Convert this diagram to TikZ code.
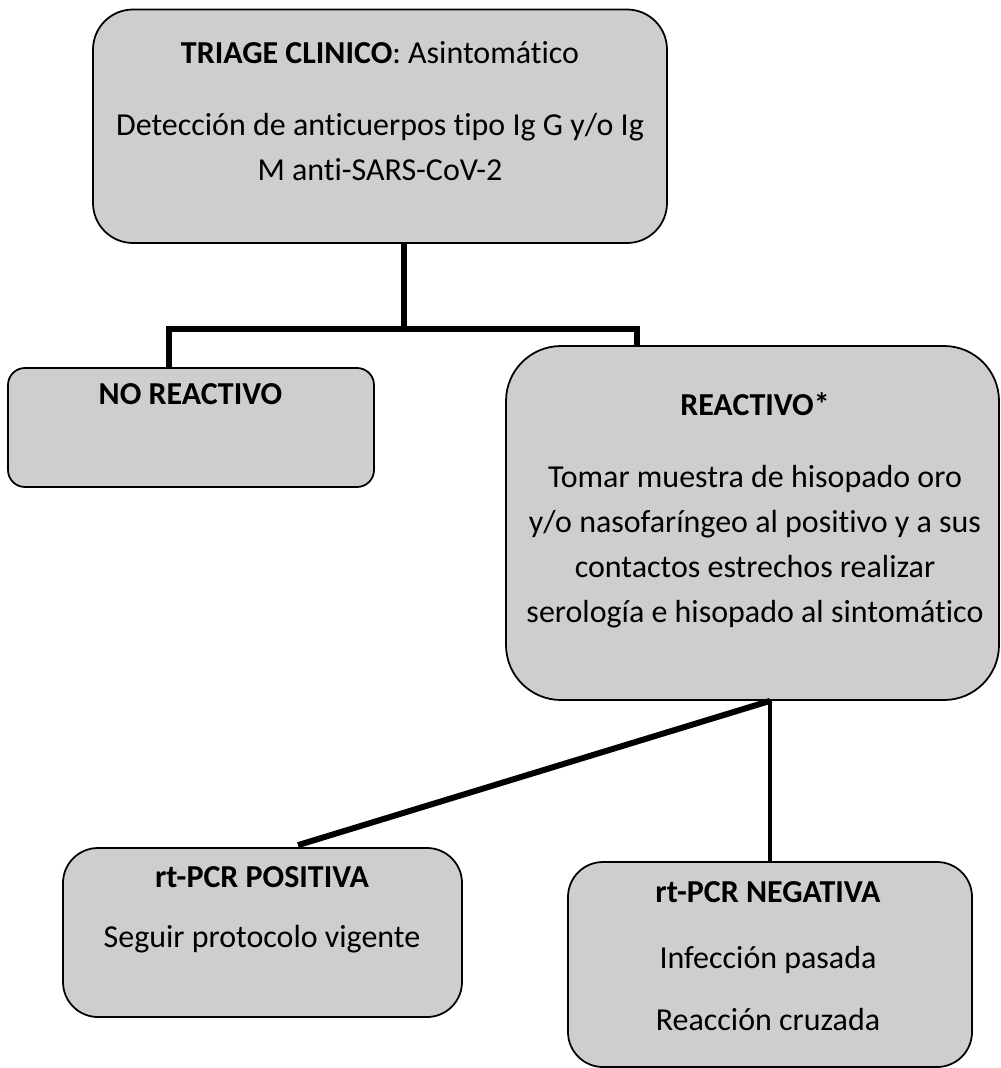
\documentclass[tikz,border=0pt]{standalone}
\usepackage{fontspec}
\setmainfont{Carlito}[Ligatures={NoCommon}]
\usepackage{xcolor}
\usetikzlibrary{positioning}
\usetikzlibrary{calc}
\definecolor{boxgray}{RGB}{207,205,206}
\tikzset{
  box/.style={rectangle, draw, fill=boxgray, line width=1pt, inner sep=0pt},
  label/.style={anchor=base, align=center, inner sep=0pt,
  font=\fontsize{18.2}{25.6}\selectfont},
  branch/.style={line width=3.4pt, line join=miter},
  leaf/.style={line width=2.3pt},
}

\begin{document}
\begin{tikzpicture}

  \useasboundingbox (0,0) rectangle (20,-21.36);

  \coordinate (trunk)  at ( 8.08, -6.58 );
  \coordinate (left)   at ( 3.38, -6.58 );
  \coordinate (right)  at (12.74, -6.58 );

  % Boxes
  \node[box, minimum width=11.48cm, minimum height=4.67cm, rounded corners=0.8cm]
    (triage) at ( 7.60, -2.525) {};
  \node[box, minimum width=7.32cm, minimum height=2.38cm, rounded corners=0.34cm]
    (noreact) at ( 3.82, -8.55) {};
  \node[box, minimum width=9.86cm, minimum height=7.08cm, rounded corners=1.1cm]
    (react) at (15.05, -10.46) {};
  \node[box, minimum width=7.98cm, minimum height=3.38cm, rounded corners=0.7cm]
    (pos) at ( 5.25, -18.65) {};
  \node[box, minimum width=8.08cm, minimum height=4.10cm, rounded corners=0.7cm]
    (neg) at (15.40, -19.29) {};

  % Texts (multi-line ones sit on their last baseline)
  \node[label] (triagetitle) at ( 7.60, -1.26)
    {\textbf{TRIAGE CLINICO}: Asintomático};
  \node[label] (triagebody) at ( 7.60, -3.60)
    {Detección de anticuerpos tipo Ig G y/o Ig\\M anti-SARS-CoV-2};
  \node[label] (noreacttitle) at ( 3.81, -8.08) {\textbf{NO REACTIVO}};
  \node[label] (reacttitle) at (15.10, -8.30) {\textbf{REACTIVO*}};
  \node[label] (reactbody) at (15.10, -12.44)
    {Tomar muestra de hisopado oro\\y/o nasofaríngeo al positivo y a sus\\
     contactos estrechos realizar\\serología e hisopado al sintomático};
  \node[label] (postitle) at ( 5.24, -17.74) {\textbf{rt-PCR POSITIVA}};
  \node[label] (posbody) at ( 5.24, -18.94) {Seguir protocolo vigente};
  \node[label] (negtitle) at (15.36, -18.04) {\textbf{rt-PCR NEGATIVA}};
  \node[label] (negbody) at (15.36, -20.60)
    {Infección pasada\\[0.34cm]Reacción cruzada};

  % Connectors
  \draw[branch] (triage.south -| trunk) -- (trunk);
  \draw[branch] (noreact.north -| left) |- (right) -- (react.north -| right);
  \draw[branch] (react.south -| neg.north) -- ($ (pos.north) + (0.71, 0.04) $);
  \draw[leaf]   (react.south -| neg.north) -- (neg.north);

\end{tikzpicture}
\end{document}
